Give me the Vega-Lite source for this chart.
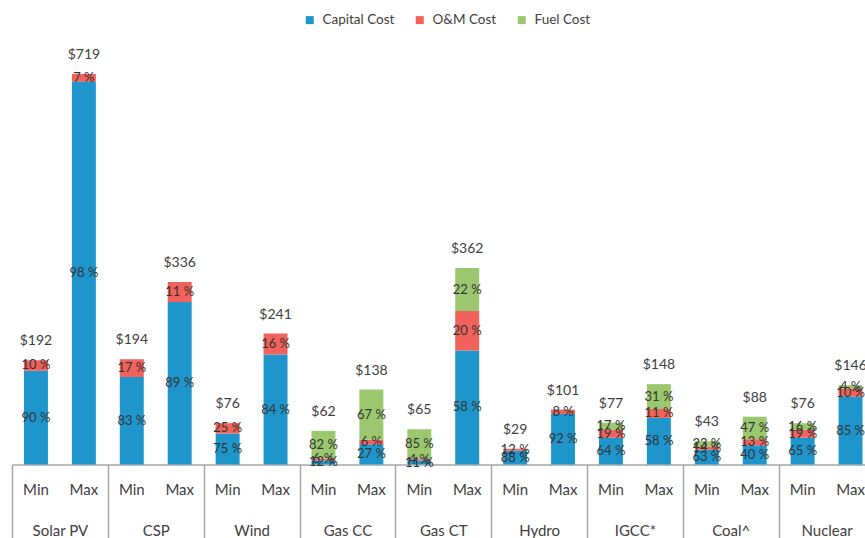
{
  "$schema": "https://vega.github.io/schema/vega-lite/v6.json",
  "width": 853,
  "height": 434.5,
  "autosize": "none",
  "padding": {"left": 12, "top": 30, "right": 0, "bottom": 73.5},
  "background": "white",
  "config": {"view": {"stroke": null}, "font": "Lato"},
  "data": {"values": [
    {"tech": "Solar PV", "level": "Min", "cost": "Capital Cost", "value": 172.8, "pct": "90 %"},
    {"tech": "Solar PV", "level": "Min", "cost": "O&M Cost", "value": 19.2, "pct": "10 %"},
    {"tech": "Solar PV", "level": "Max", "cost": "Capital Cost", "value": 705, "pct": "98 %"},
    {"tech": "Solar PV", "level": "Max", "cost": "O&M Cost", "value": 14, "pct": "7 %"},
    {"tech": "CSP", "level": "Min", "cost": "Capital Cost", "value": 161, "pct": "83 %"},
    {"tech": "CSP", "level": "Min", "cost": "O&M Cost", "value": 33, "pct": "17 %"},
    {"tech": "CSP", "level": "Max", "cost": "Capital Cost", "value": 299, "pct": "89 %"},
    {"tech": "CSP", "level": "Max", "cost": "O&M Cost", "value": 37, "pct": "11 %"},
    {"tech": "Wind", "level": "Min", "cost": "Capital Cost", "value": 57, "pct": "75 %"},
    {"tech": "Wind", "level": "Min", "cost": "O&M Cost", "value": 19, "pct": "25 %"},
    {"tech": "Wind", "level": "Max", "cost": "Capital Cost", "value": 202.4, "pct": "84 %"},
    {"tech": "Wind", "level": "Max", "cost": "O&M Cost", "value": 38.6, "pct": "16 %"},
    {"tech": "Gas CC", "level": "Min", "cost": "Capital Cost", "value": 7.4, "pct": "12 %"},
    {"tech": "Gas CC", "level": "Min", "cost": "O&M Cost", "value": 3.7, "pct": "6 %"},
    {"tech": "Gas CC", "level": "Min", "cost": "Fuel Cost", "value": 50.9, "pct": "82 %"},
    {"tech": "Gas CC", "level": "Max", "cost": "Capital Cost", "value": 37.3, "pct": "27 %"},
    {"tech": "Gas CC", "level": "Max", "cost": "O&M Cost", "value": 8.3, "pct": "6 %"},
    {"tech": "Gas CC", "level": "Max", "cost": "Fuel Cost", "value": 92.4, "pct": "67 %"},
    {"tech": "Gas CT", "level": "Min", "cost": "Capital Cost", "value": 7.2, "pct": "11 %"},
    {"tech": "Gas CT", "level": "Min", "cost": "O&M Cost", "value": 2.6, "pct": "4 %"},
    {"tech": "Gas CT", "level": "Min", "cost": "Fuel Cost", "value": 55.2, "pct": "85 %"},
    {"tech": "Gas CT", "level": "Max", "cost": "Capital Cost", "value": 210, "pct": "58 %"},
    {"tech": "Gas CT", "level": "Max", "cost": "O&M Cost", "value": 72.4, "pct": "20 %"},
    {"tech": "Gas CT", "level": "Max", "cost": "Fuel Cost", "value": 79.6, "pct": "22 %"},
    {"tech": "Hydro", "level": "Min", "cost": "Capital Cost", "value": 25.5, "pct": "88 %"},
    {"tech": "Hydro", "level": "Min", "cost": "O&M Cost", "value": 3.5, "pct": "12 %"},
    {"tech": "Hydro", "level": "Max", "cost": "Capital Cost", "value": 92.9, "pct": "92 %"},
    {"tech": "Hydro", "level": "Max", "cost": "O&M Cost", "value": 8.1, "pct": "8 %"},
    {"tech": "IGCC*", "level": "Min", "cost": "Capital Cost", "value": 49.3, "pct": "64 %"},
    {"tech": "IGCC*", "level": "Min", "cost": "O&M Cost", "value": 14.6, "pct": "19 %"},
    {"tech": "IGCC*", "level": "Min", "cost": "Fuel Cost", "value": 13.1, "pct": "17 %"},
    {"tech": "IGCC*", "level": "Max", "cost": "Capital Cost", "value": 85.8, "pct": "58 %"},
    {"tech": "IGCC*", "level": "Max", "cost": "O&M Cost", "value": 16.3, "pct": "11 %"},
    {"tech": "IGCC*", "level": "Max", "cost": "Fuel Cost", "value": 45.9, "pct": "31 %"},
    {"tech": "Coal^", "level": "Min", "cost": "Capital Cost", "value": 27.1, "pct": "63 %"},
    {"tech": "Coal^", "level": "Min", "cost": "O&M Cost", "value": 6, "pct": "14 %"},
    {"tech": "Coal^", "level": "Min", "cost": "Fuel Cost", "value": 9.9, "pct": "23 %"},
    {"tech": "Coal^", "level": "Max", "cost": "Capital Cost", "value": 35.2, "pct": "40 %"},
    {"tech": "Coal^", "level": "Max", "cost": "O&M Cost", "value": 11.4, "pct": "13 %"},
    {"tech": "Coal^", "level": "Max", "cost": "Fuel Cost", "value": 41.4, "pct": "47 %"},
    {"tech": "Nuclear", "level": "Min", "cost": "Capital Cost", "value": 49.4, "pct": "65 %"},
    {"tech": "Nuclear", "level": "Min", "cost": "O&M Cost", "value": 14.4, "pct": "19 %"},
    {"tech": "Nuclear", "level": "Min", "cost": "Fuel Cost", "value": 12.2, "pct": "16 %"},
    {"tech": "Nuclear", "level": "Max", "cost": "Capital Cost", "value": 125, "pct": "85 %"},
    {"tech": "Nuclear", "level": "Max", "cost": "O&M Cost", "value": 15, "pct": "10 %"},
    {"tech": "Nuclear", "level": "Max", "cost": "Fuel Cost", "value": 6, "pct": "4 %"}
  ]},
  "transform": [
    {"calculate": "indexof(['Capital Cost','O&M Cost','Fuel Cost'], datum.cost)", "as": "ord"},
    {"stack": "value", "groupby": ["tech", "level"], "sort": [{"field": "ord", "order": "ascending"}], "as": ["lo", "hi"]},
    {"calculate": "(datum.lo + datum.hi) / 2", "as": "mid"}
  ],
  "encoding": {
    "x": {
      "field": "tech", "type": "nominal",
      "sort": ["Solar PV", "CSP", "Wind", "Gas CC", "Gas CT", "Hydro", "IGCC*", "Coal^", "Nuclear"],
      "scale": {"range": [0, 862.5], "paddingInner": 0, "paddingOuter": 0},
      "axis": {
        "title": null, "domainColor": "#a6a6a6", "domainWidth": 1.5,
        "tickBand": "extent", "tickSize": 74, "tickColor": "#a6a6a6", "tickWidth": 1.5,
        "labelFontSize": 15, "labelColor": "#404040", "labelFont": "Lato",
        "labelPadding": -8.5, "labelBaseline": "middle", "labelAngle": 0,
        "labelFlush": false, "labelOverlap": false, "labelBound": false
      }
    },
    "xOffset": {
      "field": "level", "type": "nominal", "sort": ["Min", "Max"],
      "scale": {"paddingInner": 0.5, "paddingOuter": 0.25}
    }
  },
  "layer": [
    {
      "mark": {"type": "bar"},
      "encoding": {
        "y": {"field": "lo", "type": "quantitative", "scale": {"domain": [0, 800]}, "axis": null},
        "y2": {"field": "hi"},
        "color": {
          "field": "cost", "type": "nominal",
          "sort": ["Capital Cost", "O&M Cost", "Fuel Cost"],
          "scale": {"domain": ["Capital Cost", "O&M Cost", "Fuel Cost"], "range": ["#1f96cb", "#f0625b", "#9bc86f"]},
          "legend": {
            "title": null, "orient": "none", "direction": "horizontal",
            "legendX": 291, "legendY": -17,
            "symbolType": "square", "symbolSize": 64, "symbolStrokeWidth": 0,
            "labelFontSize": 13.5, "labelColor": "#404040", "labelFont": "Lato",
            "columnPadding": 18, "labelOffset": 6
          }
        }
      }
    },
    {
      "mark": {"type": "text", "fontSize": 13, "color": "#333333", "baseline": "middle"},
      "encoding": {
        "y": {"field": "mid", "type": "quantitative"},
        "text": {"field": "pct"}
      }
    },
    {
      "mark": {"type": "text", "fontSize": 14, "color": "#404040", "baseline": "middle", "dy": -19},
      "encoding": {
        "y": {"aggregate": "sum", "field": "value", "type": "quantitative"},
        "text": {"aggregate": "sum", "field": "value", "type": "quantitative", "format": "$.0f"}
      }
    },
    {
      "transform": [{"filter": "datum.cost === 'Capital Cost'"}],
      "mark": {"type": "text", "fontSize": 15, "color": "#404040", "baseline": "middle", "dy": 25.5},
      "encoding": {
        "y": {"datum": 0, "type": "quantitative"},
        "text": {"field": "level"}
      }
    }
  ]
}
